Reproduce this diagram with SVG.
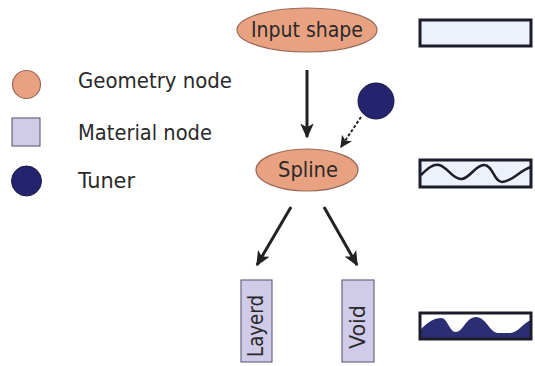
<svg xmlns="http://www.w3.org/2000/svg" width="535" height="366" viewBox="0 0 535 366">
<style>
.geo{fill:#e8a282;stroke:#9a6a58;stroke-width:1.2}
.mat{fill:#cfcbe9;stroke:#6a6880;stroke-width:1.2}
.tun{fill:#24246e;stroke:#1a1a40;stroke-width:1}
.swatch{fill:#edf1fa;stroke:#1c1c2c;stroke-width:3}
.t{font-family:"DejaVu Sans Condensed","DejaVu Sans",sans-serif;fill:#2a2a2a}
.edge{stroke:#222;stroke-width:3;fill:none}
</style>
<defs>
<marker id="ah" viewBox="0 0 10 10" refX="9" refY="5" markerWidth="5" markerHeight="5" orient="auto" markerUnits="strokeWidth">
<path d="M0,0.5 L10,5 L0,9.5 L2.5,5 z" fill="#222"/>
</marker>
<marker id="ahs" viewBox="0 0 10 10" refX="9" refY="5" markerWidth="6" markerHeight="6" orient="auto" markerUnits="strokeWidth">
<path d="M0,0 L10,5 L0,10 L2.5,5 z" fill="#222"/>
</marker>
</defs>

<g id="legend">
<circle class="geo" cx="26.5" cy="84.5" r="14"/>
<text class="t" x="78" y="88" font-size="21" textLength="154" lengthAdjust="spacingAndGlyphs">Geometry node</text>
<rect class="mat" x="12" y="118" width="28" height="28"/>
<text class="t" x="78" y="140" font-size="21" textLength="134" lengthAdjust="spacingAndGlyphs">Material node</text>
<circle class="tun" cx="26.5" cy="181" r="15"/>
<text class="t" x="78" y="188" font-size="21" textLength="57" lengthAdjust="spacingAndGlyphs">Tuner</text>
</g>

<g id="connectors">
<line class="edge" x1="307" y1="70" x2="307" y2="137" marker-end="url(#ah)"/>
<line x1="361" y1="117" x2="341" y2="147" stroke="#222" stroke-width="2" stroke-dasharray="3,2" marker-end="url(#ahs)"/>
<line class="edge" x1="291" y1="207" x2="257" y2="265" marker-end="url(#ah)"/>
<line class="edge" x1="324" y1="207" x2="357" y2="265" marker-end="url(#ah)"/>
</g>

<g id="input-shape">
<ellipse class="geo" cx="307" cy="30" rx="70" ry="22"/>
<text class="t" x="307" y="37" font-size="21" text-anchor="middle" textLength="112" lengthAdjust="spacingAndGlyphs">Input shape</text>
</g>

<g id="tuner">
<circle class="tun" cx="376" cy="101" r="18"/>
</g>

<g id="spline">
<ellipse class="geo" cx="307" cy="170" rx="51" ry="21"/>
<text class="t" x="308" y="177" font-size="21" text-anchor="middle" textLength="60" lengthAdjust="spacingAndGlyphs">Spline</text>
</g>

<g id="layerd">
<rect class="mat" x="241" y="280" width="31" height="82"/>
<text class="t" transform="translate(263,326) rotate(-90)" font-size="21" text-anchor="middle" textLength="62" lengthAdjust="spacingAndGlyphs">Layerd</text>
</g>

<g id="void">
<rect class="mat" x="342" y="280" width="32" height="82"/>
<text class="t" transform="translate(365,327) rotate(-90)" font-size="21" text-anchor="middle" textLength="44" lengthAdjust="spacingAndGlyphs">Void</text>
</g>

<g id="swatch-input">
<rect class="swatch" x="420" y="20" width="111" height="26"/>
</g>

<g id="swatch-spline">
<rect class="swatch" x="420" y="160" width="111" height="27"/>
<path d="M421,175 C428,168 433,164 439,165 C448,167 452,179 461,179 C470,179 475,165 484,165 C493,165 494,182 502,182 C512,182 520,170 531,167" fill="none" stroke="#1c1c2c" stroke-width="2.5"/>
</g>

<g id="swatch-void">
<rect x="420" y="313" width="111" height="26" fill="#ffffff"/>
<path d="M420,330 C428,322 434,318 441,318 C448,318 449,332 456,332 C463,332 466,317 476,317 C486,317 490,333 498,333 L510,333 C518,333 524,322 531,320 L531,339 L420,339 z" fill="#2a2e72"/>
<rect x="420" y="313" width="111" height="26" fill="none" stroke="#1c1c2c" stroke-width="3"/>
</g>
</svg>
